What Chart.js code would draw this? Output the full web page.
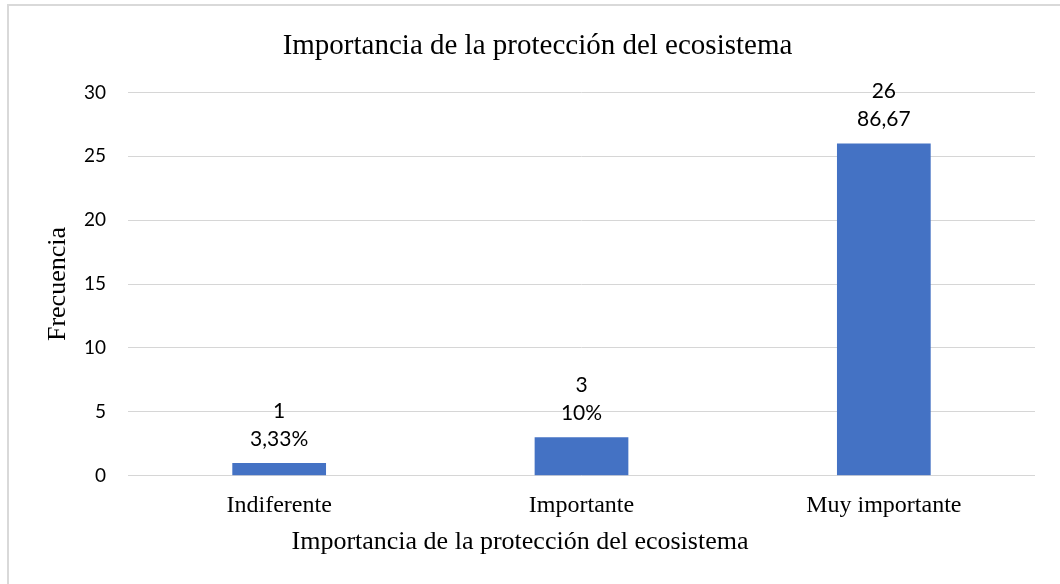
<!DOCTYPE html>
<html>
<head>
<meta charset="utf-8">
<script src="https://cdn.jsdelivr.net/npm/chart.js@4.4.1/dist/chart.umd.min.js"></script>
<style>
  html, body { margin: 0; padding: 0; background: #fff; }
  #wrap { position: relative; width: 1060px; height: 584px; overflow: hidden; }
  #frame { position: absolute; left: 7px; top: 4px; width: 1200px; height: 700px; border: 2px solid #d9d9d9; }
  canvas { position: absolute; left: 0; top: 0; }
</style>
</head>
<body>
<div id="wrap">
  <div id="frame"></div>
  <canvas id="chart" width="1060" height="584"></canvas>
</div>
<script>
// data
const categories = ['Indiferente', 'Importante', 'Muy importante'];
const frequencies = [1, 3, 26];
const percentLabels = ['3,33%', '10%', '86,67'];
const chartTitle = 'Importancia de la protección del ecosistema';
const xTitle = 'Importancia de la protección del ecosistema';
const yTitle = 'Frecuencia';

const SERIF = '"Liberation Serif", "Times New Roman", serif';
const SANS = 'Lato, "Open Sans", sans-serif';

// two-line labels above each bar (count, then percentage)
const barLabels = {
  id: 'barLabels',
  afterDatasetsDraw(chart) {
    const ctx = chart.ctx;
    const meta = chart.getDatasetMeta(0);
    ctx.save();
    ctx.font = '21px ' + SANS;
    ctx.fillStyle = '#000';
    ctx.textAlign = 'center';
    ctx.textBaseline = 'middle';
    meta.data.forEach((bar, i) => {
      ctx.fillText(String(frequencies[i]), bar.x, bar.y - 52);
      ctx.fillText(percentLabels[i], bar.x, bar.y - 24);
    });
    ctx.restore();
  }
};

// x axis title sits a bit left of the plot centre in the original
const xAxisTitle = {
  id: 'xAxisTitle',
  afterDraw(chart) {
    const ctx = chart.ctx;
    ctx.save();
    ctx.font = '26px ' + SERIF;
    ctx.fillStyle = '#000';
    ctx.textAlign = 'center';
    ctx.textBaseline = 'middle';
    ctx.fillText(xTitle, 520, chart.chartArea.bottom + 66);
    ctx.restore();
  }
};

new Chart(document.getElementById('chart'), {
  type: 'bar',
  data: {
    labels: categories,
    datasets: [{
      data: frequencies,
      backgroundColor: '#4472c4',
      borderWidth: 0,
      barPercentage: 0.31,
      categoryPercentage: 1
    }]
  },
  options: {
    responsive: false,
    animation: false,
    layout: { padding: { left: 40, right: 25, top: 0, bottom: 47.5 } },
    plugins: {
      legend: { display: false },
      tooltip: { enabled: false },
      title: {
        display: true,
        text: chartTitle,
        color: '#000',
        font: { family: SERIF, size: 29, weight: 'normal' },
        padding: { top: 28.6, bottom: 29 }
      }
    },
    scales: {
      x: {
        grid: { display: false, drawTicks: false },
        border: { display: false },
        ticks: { color: '#000', font: { family: SERIF, size: 24 }, padding: 16 }
      },
      y: {
        min: 0,
        max: 30,
        grid: { color: '#d6d6d6', lineWidth: 1, drawTicks: false },
        border: { display: false },
        ticks: { stepSize: 5, color: '#000', font: { family: SANS, size: 19 }, padding: 22 },
        title: {
          display: true,
          text: yTitle,
          color: '#000',
          font: { family: SERIF, size: 26 },
          padding: { top: 3, bottom: 0 }
        },
        afterFit(scale) { scale.width = 88; }
      }
    }
  },
  plugins: [barLabels, xAxisTitle]
});
</script>
</body>
</html>
